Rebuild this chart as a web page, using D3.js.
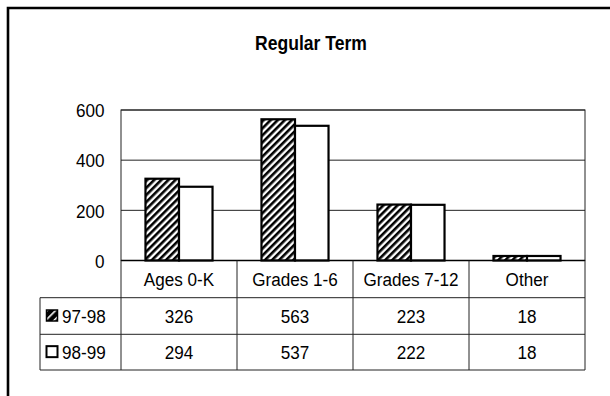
<!DOCTYPE html>
<html><head><meta charset="utf-8">
<script src="https://cdn.jsdelivr.net/npm/d3@7"></script>
<style>body{margin:0;background:#fff}svg{display:block}</style>
</head><body>
<script>
const categories = ["Ages 0-K", "Grades 1-6", "Grades 7-12", "Other"];
const seriesNames = ["97-98", "98-99"];
const values9798 = [326, 563, 223, 18];
const values9899 = [294, 537, 222, 18];
const yTicks = [0, 200, 400, 600];
const title = "Regular Term";

(function(){
const W = 610, H = 396;
const font = "'Liberation Sans',Arial,sans-serif";
const SX = 0.9, FS = 19;
const svg = d3.select("body").append("svg").attr("width", W).attr("height", H);

function txt(g, x, y, s, anchor, size, bold) {
  return g.append("text")
    .attr("transform", `translate(${x},${y}) scale(${SX},1)`)
    .attr("text-anchor", anchor).attr("font-family", font)
    .attr("font-size", size).attr("font-weight", bold ? "bold" : "normal")
    .attr("fill", "#000").text(s);
}

const defs = svg.append("defs");
const pat = defs.append("pattern").attr("id","hatch").attr("patternUnits","userSpaceOnUse")
  .attr("width",5).attr("height",5).attr("patternTransform","rotate(45)");
pat.append("rect").attr("width",5).attr("height",5).attr("fill","#fff");
pat.append("rect").attr("width",2.6).attr("height",5).attr("fill","#000");
const pat2 = defs.append("pattern").attr("id","hatchS").attr("patternUnits","userSpaceOnUse")
  .attr("width",6).attr("height",6).attr("patternTransform","rotate(45)");
pat2.append("rect").attr("width",6).attr("height",6).attr("fill","#000");
pat2.append("rect").attr("width",1.6).attr("height",6).attr("fill","#fff");

// outer border
svg.append("path").attr("d","M8,400 L8,8 L615,8").attr("fill","none").attr("stroke","#000").attr("stroke-width",2.6);

txt(svg, 311, 50, title, "middle", 19.5, true);

const pLeft = 121, pRight = 585, pTop = 110, zeroY = 260.5;
const x = d3.scaleBand().domain(categories).range([pLeft, pRight]);
const y = d3.scaleLinear().domain([0, 600]).range([zeroY, pTop]);
const xs = d3.scaleBand().domain(seriesNames).range([0, x.bandwidth()]).paddingOuter(0.73).paddingInner(0);

// grid
svg.append("g").selectAll("line").data(yTicks.filter(t=>t>0)).join("line")
  .attr("x1",pLeft).attr("x2",pRight).attr("y1",d=>y(d)).attr("y2",d=>y(d))
  .attr("stroke","#222").attr("stroke-width",1);
svg.append("rect").attr("x",pLeft).attr("y",pTop).attr("width",pRight-pLeft).attr("height",zeroY-pTop)
  .attr("fill","none").attr("stroke","#222").attr("stroke-width",1);

// y axis labels
const yAxis = d3.axisLeft(y).tickValues(yTicks).tickSize(0).tickPadding(0);
const ya = svg.append("g").attr("transform",`translate(${pLeft},0)`).call(yAxis);
ya.select(".domain").remove();
ya.selectAll(".tick text").attr("x", 0).attr("dy", null).attr("y", 6.8)
  .attr("transform", `translate(-16.5,0) scale(${SX},1)`)
  .attr("font-family",font).attr("font-size",FS).attr("fill","#000");

// bars
const series = [values9798, values9899];
const fills = ["url(#hatch)", "#fff"];
series.forEach((vals, si) => {
  svg.append("g").selectAll("rect").data(vals).join("rect")
    .attr("x",(d,i)=>x(categories[i]) + xs(seriesNames[si]))
    .attr("width", xs.bandwidth())
    .attr("y", d=>y(d)).attr("height", d=>zeroY - y(d))
    .attr("fill", fills[si]).attr("stroke","#000").attr("stroke-width",2.2);
});

svg.append("line").attr("x1",pLeft).attr("x2",pRight).attr("y1",zeroY).attr("y2",zeroY)
  .attr("stroke","#000").attr("stroke-width",1.5);

// data table
const tLeft = 40, rowH = [260.5, 297.7, 334.3, 370];
const tg = svg.append("g").attr("stroke","#222").attr("stroke-width",1);
[1,2,3].forEach(r => tg.append("line").attr("x1",tLeft).attr("x2",pRight).attr("y1",rowH[r]).attr("y2",rowH[r]));
tg.append("line").attr("x1",tLeft).attr("x2",tLeft).attr("y1",rowH[1]).attr("y2",rowH[3]);
const dividers = categories.map(c=>x(c)).concat([pRight]);
tg.selectAll(".v").data(dividers).join("line")
  .attr("x1",d=>d).attr("x2",d=>d).attr("y1",zeroY).attr("y2",rowH[3]);

const labG = svg.append("g");
categories.forEach(c => txt(labG, x(c)+x.bandwidth()/2, (rowH[0]+rowH[1])/2+6.8, c, "middle", FS));

series.forEach((vals, si) => {
  const yc = (rowH[si+1]+rowH[si+2])/2;
  const g = svg.append("g");
  vals.forEach((v, i) => txt(g, x(categories[i])+x.bandwidth()/2, yc+6.8, v, "middle", FS));
  svg.append("rect").attr("x",46.5).attr("y",yc-6).attr("width",11).attr("height",11)
    .attr("fill", si===0 ? "url(#hatchS)" : "#fff").attr("stroke","#000").attr("stroke-width",si===0?1.5:2);
  txt(g, 62, yc+6.8, seriesNames[si], "start", FS);
});
})();
</script>
</body></html>
